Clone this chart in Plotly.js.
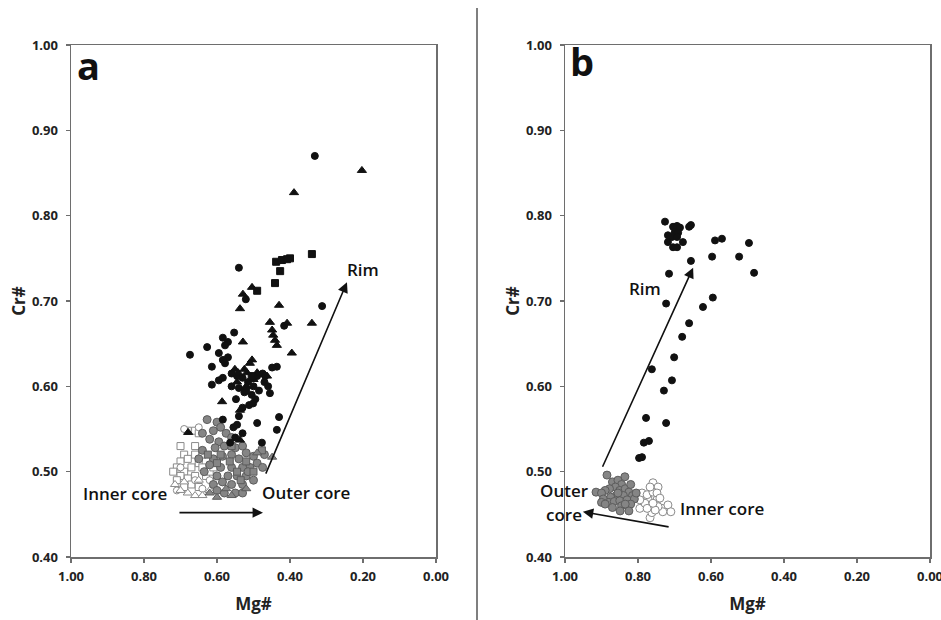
<!DOCTYPE html>
<html>
<head>
<meta charset="utf-8">
<script src="https://cdn.plot.ly/plotly-3.0.1.min.js"></script>
<style>html,body{margin:0;padding:0;background:#fff;}#chart{width:941px;height:620px;}</style>
</head>
<body>
<div id="chart"></div>
<script>
// ---------- Panel a data: [Mg#, Cr#] ----------
const aBlackCircles = [
  [0.332,0.870],[0.540,0.739],[0.312,0.694],[0.521,0.702],[0.416,0.671],[0.553,0.663],
  [0.584,0.657],[0.570,0.652],[0.578,0.648],[0.627,0.646],[0.674,0.637],[0.595,0.639],
  [0.570,0.634],[0.584,0.631],[0.578,0.627],[0.614,0.623],[0.436,0.623],[0.449,0.622],
  [0.584,0.610],[0.614,0.602],[0.595,0.607],[0.560,0.615],[0.545,0.612],[0.530,0.610],
  [0.515,0.605],[0.500,0.600],[0.490,0.612],[0.475,0.615],[0.470,0.605],[0.460,0.600],
  [0.540,0.598],[0.525,0.593],[0.505,0.590],[0.495,0.585],[0.548,0.585],[0.512,0.578],
  [0.468,0.612],[0.455,0.592],[0.530,0.575],[0.560,0.600],[0.485,0.595],[0.501,0.580],
  [0.430,0.564],[0.436,0.549],[0.584,0.561],[0.490,0.557],[0.555,0.552],[0.545,0.555],
  [0.564,0.534],[0.477,0.534],[0.540,0.565],[0.530,0.545],[0.550,0.540]
];
const aBlackTriangles = [
  [0.203,0.853],[0.389,0.827],[0.504,0.716],[0.529,0.708],[0.430,0.695],[0.537,0.691],
  [0.455,0.675],[0.408,0.674],[0.340,0.674],[0.449,0.666],[0.446,0.660],[0.441,0.654],
  [0.436,0.648],[0.529,0.652],[0.395,0.639],[0.504,0.631],[0.510,0.627],[0.551,0.620],
  [0.542,0.616],[0.518,0.616],[0.490,0.616],[0.463,0.612],[0.586,0.582],[0.537,0.572],
  [0.679,0.546],[0.537,0.537],[0.520,0.600],[0.500,0.608],[0.545,0.605],[0.525,0.620]
];
const aBlackSquares = [
  [0.340,0.755],[0.438,0.746],[0.422,0.748],[0.408,0.749],[0.400,0.750],[0.427,0.735],
  [0.441,0.721],[0.490,0.712],[0.520,0.595],[0.505,0.612]
];
const aGrayCircles = [
  [0.627,0.561],[0.600,0.558],[0.590,0.552],[0.610,0.548],[0.640,0.545],[0.620,0.538],
  [0.575,0.545],[0.560,0.540],[0.595,0.535],[0.605,0.528],[0.580,0.530],[0.550,0.528],
  [0.530,0.530],[0.520,0.522],[0.560,0.520],[0.585,0.518],[0.610,0.515],[0.540,0.515],
  [0.500,0.518],[0.490,0.510],[0.475,0.505],[0.510,0.505],[0.530,0.505],[0.560,0.505],
  [0.590,0.505],[0.620,0.508],[0.600,0.495],[0.570,0.495],[0.545,0.495],[0.520,0.495],
  [0.500,0.490],[0.530,0.485],[0.560,0.485],[0.585,0.488],[0.610,0.485],[0.550,0.475],
  [0.580,0.475],[0.600,0.478],[0.530,0.475],[0.515,0.500],[0.470,0.520],[0.640,0.525],
  [0.650,0.515],[0.635,0.500]
];
const aGraySquares = [
  [0.477,0.525],[0.565,0.512],[0.545,0.500],[0.590,0.520],[0.520,0.512],[0.560,0.530],
  [0.600,0.510],[0.625,0.520],[0.500,0.500],[0.535,0.490]
];
const aGrayTriangles = [
  [0.600,0.470],[0.560,0.472],[0.449,0.517],[0.575,0.480],[0.620,0.475],[0.490,0.522],
  [0.520,0.480]
];
const aOpenSquares = [
  [0.660,0.548],[0.680,0.548],[0.650,0.545],[0.690,0.520],[0.700,0.512],[0.710,0.505],
  [0.720,0.500],[0.680,0.515],[0.670,0.505],[0.660,0.520],[0.690,0.500],[0.700,0.495],
  [0.710,0.490],[0.680,0.492],[0.660,0.495],[0.650,0.510],[0.640,0.505],[0.630,0.495],
  [0.620,0.500],[0.670,0.485],[0.690,0.482],[0.650,0.482],[0.640,0.520],[0.700,0.530],
  [0.660,0.530],[0.610,0.505],[0.600,0.490]
];
const aOpenCircles = [
  [0.690,0.550],[0.650,0.552],[0.700,0.505],[0.660,0.490],[0.640,0.480],[0.620,0.490],
  [0.710,0.478]
];
const aOpenTriangles = [
  [0.715,0.485],[0.700,0.478],[0.680,0.475],[0.660,0.472],[0.640,0.472],[0.620,0.478],
  [0.690,0.488],[0.650,0.490]
];

// ---------- Panel b data: [Mg#, Cr#] ----------
const bRimCircles = [
  [0.726,0.793],[0.704,0.787],[0.693,0.788],[0.685,0.786],[0.699,0.781],[0.690,0.780],
  [0.718,0.777],[0.707,0.775],[0.693,0.775],[0.718,0.769],[0.704,0.763],[0.693,0.763],
  [0.677,0.769],[0.660,0.787],[0.655,0.789],[0.589,0.771],[0.570,0.773],[0.496,0.768],
  [0.655,0.747],[0.597,0.752],[0.523,0.752],[0.482,0.733],[0.715,0.732],[0.595,0.704],
  [0.622,0.693],[0.723,0.697],[0.660,0.674],[0.679,0.658],[0.701,0.634],[0.762,0.620],
  [0.707,0.607],[0.729,0.595],[0.778,0.563],[0.723,0.557],[0.784,0.534],[0.770,0.536],
  [0.797,0.516],[0.789,0.517]
];
const bOuterCore = [
  [0.885,0.496],[0.836,0.494],[0.870,0.488],[0.855,0.490],[0.845,0.485],[0.862,0.482],
  [0.878,0.480],[0.890,0.478],[0.915,0.476],[0.900,0.475],[0.850,0.478],[0.835,0.480],
  [0.825,0.476],[0.815,0.472],[0.840,0.472],[0.860,0.472],[0.875,0.470],[0.895,0.468],
  [0.880,0.464],[0.865,0.465],[0.850,0.466],[0.830,0.467],[0.810,0.468],[0.805,0.475],
  [0.900,0.464],[0.890,0.462],[0.845,0.460],[0.820,0.462],[0.849,0.454],[0.825,0.454],
  [0.870,0.458],[0.835,0.462],[0.855,0.475],[0.820,0.485]
];
const bInnerCore = [
  [0.759,0.487],[0.745,0.482],[0.789,0.475],[0.773,0.469],[0.748,0.467],[0.734,0.457],
  [0.718,0.461],[0.710,0.453],[0.732,0.453],[0.767,0.446],[0.762,0.452],[0.795,0.457],
  [0.781,0.463],[0.775,0.473],[0.759,0.476],[0.748,0.475],[0.767,0.482],[0.745,0.459],
  [0.753,0.455],[0.775,0.457],[0.795,0.467],[0.759,0.463],[0.740,0.469]
];

// ---------- Text ----------
const panelLabels = ['a', 'b'];
const xTitle = 'Mg#';
const yTitle = 'Cr#';

const BLACK = '#111111';
function tr(pts, xa, ya, symbol, size, fill, line) {
  return {
    type: 'scatter', mode: 'markers',
    x: pts.map(p => p[0]), y: pts.map(p => p[1]),
    xaxis: xa, yaxis: ya, showlegend: false, hoverinfo: 'skip',
    marker: {symbol: symbol, size: size, color: fill, line: {color: line, width: 1}}
  };
}
const GRAYF = '#858585', GRAYL = '#5c5c5c', OPENL = '#8a8a8a';
const data = [
  tr(aOpenSquares, 'x', 'y', 'square', 7, '#ffffff', OPENL),
  tr(aOpenCircles, 'x', 'y', 'circle', 7, '#ffffff', OPENL),
  tr(aOpenTriangles, 'x', 'y', 'triangle-up', 8, '#ffffff', OPENL),
  tr(aGrayCircles, 'x', 'y', 'circle', 8, GRAYF, GRAYL),
  tr(aGraySquares, 'x', 'y', 'square', 7, GRAYF, GRAYL),
  tr(aGrayTriangles, 'x', 'y', 'triangle-up', 8, GRAYF, GRAYL),
  tr(aBlackCircles, 'x', 'y', 'circle', 7, BLACK, BLACK),
  tr(aBlackTriangles, 'x', 'y', 'triangle-up', 8, BLACK, BLACK),
  tr(aBlackSquares, 'x', 'y', 'square', 7, BLACK, BLACK),
  tr(bInnerCore, 'x2', 'y2', 'circle', 8, '#ffffff', '#8a8a8a'),
  tr(bOuterCore, 'x2', 'y2', 'circle', 8, GRAYF, GRAYL),
  tr(bRimCircles, 'x2', 'y2', 'circle', 7, BLACK, BLACK)
];

const W = 941, H = 620;
const tickFont = {family: 'Open Sans, sans-serif', size: 13, color: '#222', weight: 'bold'};
const titleFont = {family: 'Open Sans, sans-serif', size: 17, color: '#222', weight: 'bold'};
function xax(domain) {
  return {
    domain: domain, range: [1, 0], dtick: 0.2, tick0: 0, tickformat: '.2f',
    showgrid: false, zeroline: false, showline: true, mirror: true,
    linecolor: '#6e6e6e', linewidth: 1.5, ticks: 'outside', ticklen: 4,
    tickcolor: '#6e6e6e', tickwidth: 1.5, tickfont: tickFont,
    ticklabelstandoff: 3, ticklabeloverflow: 'allow',
    title: {text: xTitle, font: titleFont, standoff: 14}, fixedrange: true
  };
}
function yax(domain, anchor) {
  return {
    domain: domain, range: [0.4, 1.0], dtick: 0.1, tick0: 0, tickformat: '.2f',
    showgrid: false, zeroline: false, showline: true, mirror: true, anchor: anchor,
    linecolor: '#6e6e6e', linewidth: 1.5, ticks: 'outside', ticklen: 4,
    tickcolor: '#6e6e6e', tickwidth: 1.5, tickfont: tickFont,
    ticklabelstandoff: 5, ticklabeloverflow: 'allow',
    title: {text: yTitle, font: titleFont, standoff: 2}, fixedrange: true
  };
}
const yDom = [1 - 557 / H, 1 - 45 / H];
const arrowStyle = {showarrow: true, arrowhead: 2, arrowsize: 1.3, arrowwidth: 1.6, arrowcolor: '#111', text: ''};
const lblFont = {family: 'Open Sans, sans-serif', size: 17, color: '#111', weight: 600};
const bigFont = {family: 'Open Sans, sans-serif', size: 38, color: '#111', weight: 'bold'};
const layout = {
  width: W, height: H,
  margin: {l: 0, r: 0, t: 0, b: 0},
  paper_bgcolor: '#fff', plot_bgcolor: '#fff',
  xaxis: Object.assign(xax([71 / W, 436 / W]), {anchor: 'y'}),
  yaxis: yax(yDom, 'x'),
  xaxis2: Object.assign(xax([565 / W, 930 / W]), {anchor: 'y2'}),
  yaxis2: yax(yDom, 'x2'),
  shapes: [{type: 'line', xref: 'paper', yref: 'paper', x0: 477 / W, x1: 477 / W, y0: 0, y1: 1 - 8 / H,
            line: {color: '#555', width: 1.5}}],
  annotations: [
    {xref: 'x domain', yref: 'y domain', x: 0.012, y: 1.016, xanchor: 'left', yanchor: 'top', text: panelLabels[0],
     showarrow: false, font: bigFont},
    {xref: 'x2 domain', yref: 'y2 domain', x: 0.008, y: 1.024, xanchor: 'left', yanchor: 'top', text: panelLabels[1],
     showarrow: false, font: bigFont},
    // Panel a
    Object.assign({xref: 'x', yref: 'y', axref: 'x', ayref: 'y', x: 0.244, y: 0.722, ax: 0.468, ay: 0.496}, arrowStyle),
    Object.assign({xref: 'x', yref: 'y', axref: 'x', ayref: 'y', x: 0.474, y: 0.452, ax: 0.707, ay: 0.452}, arrowStyle),
    {xref: 'x', yref: 'y', x: 0.20, y: 0.737, text: 'Rim', showarrow: false, font: lblFont},
    {xref: 'x', yref: 'y', x: 0.356, y: 0.476, text: 'Outer core', showarrow: false, font: lblFont},
    {xref: 'x', yref: 'y', x: 0.852, y: 0.474, text: 'Inner core', showarrow: false, font: lblFont},
    // Panel b
    Object.assign({xref: 'x2', yref: 'y2', axref: 'x2', ayref: 'y2', x: 0.649, y: 0.739, ax: 0.899, ay: 0.504}, arrowStyle),
    Object.assign({xref: 'x2', yref: 'y2', axref: 'x2', ayref: 'y2', x: 0.951, y: 0.453, ax: 0.712, ay: 0.435}, arrowStyle),
    {xref: 'x2', yref: 'y2', x: 0.781, y: 0.715, text: 'Rim', showarrow: false, font: lblFont},
    {xref: 'paper', yref: 'y2', x: 564 / W, y: 0.478, text: 'Outer', showarrow: false, font: lblFont},
    {xref: 'paper', yref: 'y2', x: 564 / W, y: 0.450, text: 'core', showarrow: false, font: lblFont},
    {xref: 'x2', yref: 'y2', x: 0.570, y: 0.457, text: 'Inner core', showarrow: false, font: lblFont}
  ]
};
Plotly.newPlot('chart', data, layout, {displayModeBar: false, staticPlot: true});
</script>
</body>
</html>
